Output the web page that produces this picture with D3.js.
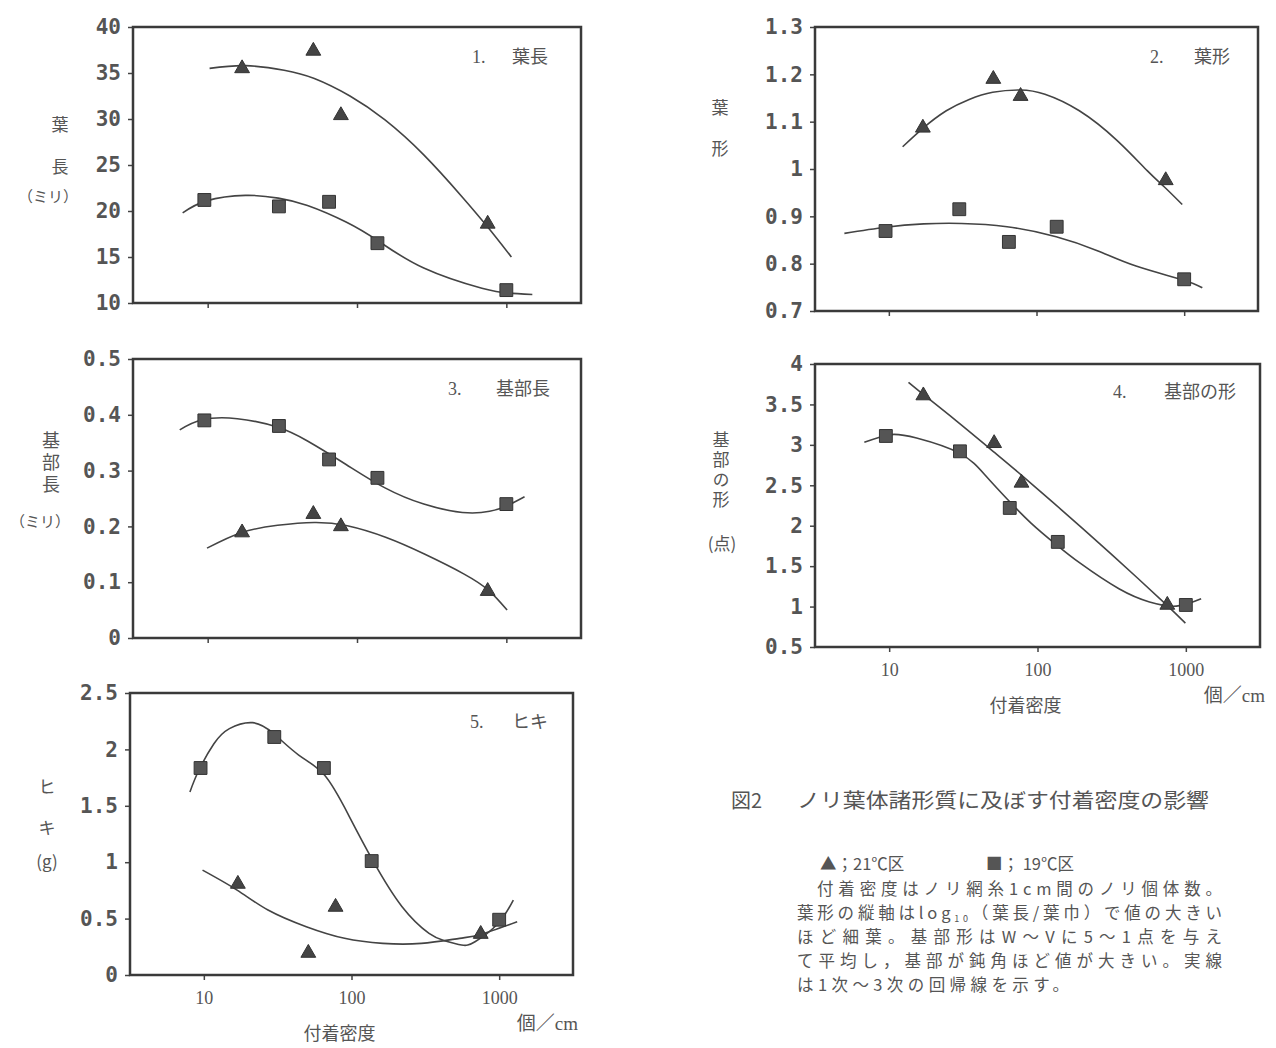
<!DOCTYPE html>
<html>
<head>
<meta charset="utf-8">
<script src="https://cdn.jsdelivr.net/npm/d3@7"></script>
<style>
body { margin: 0; background: #fff; }
svg text { fill: #555; }
</style>
</head>
<body>
<svg id="chart" width="1276" height="1048"></svg>
<script>
// 付着密度 (個/cm) of the plots
var densT = [17, 51, 78, 750];          // ▲ 21℃区
var densS = [9.5, 30, 65, 137, 1000];   // ■ 19℃区
var xTicks = [10, 100, 1000];
var xDomain = [3.162, 3162];

// 1. 葉長
var leafLenTicks = [10, 15, 20, 25, 30, 35, 40];
var leafLenT = [35.5, 37.4, 30.4, 18.6];
var leafLenS = [21.2, 20.5, 21.0, 16.5, 11.4];
var leafLenCurveT = [[10.3, 35.5], [17.9, 35.8], [32.5, 35.3], [51.8, 34.4], [89.7, 32.5], [154, 29.9], [280, 26.1], [508, 21.5], [755, 18.2], [1081, 15.0]];
var leafLenCurveS = [[6.8, 19.8], [9.8, 21.1], [17.9, 21.7], [29.7, 21.4], [46.6, 20.6], [84.5, 18.8], [140, 16.7], [280, 13.8], [686, 11.6], [1030, 11.07], [1493, 10.93]];

// 2. 葉形
var leafShapeTicks = [0.7, 0.8, 0.9, 1, 1.1, 1.2, 1.3];
var leafShapeT = [1.087, 1.19, 1.154, 0.976];
var leafShapeS = [0.869, 0.915, 0.846, 0.878, 0.767];
var leafShapeCurveT = [[12.4, 1.047], [17, 1.086], [24.5, 1.123], [35, 1.147], [50.5, 1.162], [77.8, 1.167], [114, 1.158], [195, 1.123], [352, 1.06], [564, 0.996], [735, 0.962], [970, 0.925]];
var leafShapeCurveS = [[5.0, 0.864], [9.5, 0.877], [17.2, 0.884], [31.1, 0.885], [63.2, 0.878], [136, 0.857], [261, 0.827], [472, 0.795], [970, 0.766], [1327, 0.749]];

// 3. 基部長
var baseLenTicks = [0, 0.1, 0.2, 0.3, 0.4, 0.5];
var baseLenT = [0.189, 0.222, 0.2, 0.084];
var baseLenS = [0.39, 0.38, 0.32, 0.287, 0.24];
var baseLenCurveT = [[9.9, 0.161], [16.9, 0.189], [29.4, 0.202], [51.8, 0.207], [86.1, 0.201], [157, 0.180], [285, 0.150], [518, 0.115], [764, 0.085], [1012, 0.05]];
var baseLenCurveS = [[6.5, 0.373], [9.2, 0.391], [15.8, 0.393], [29.2, 0.378], [46.6, 0.353], [84.5, 0.311], [154, 0.269], [280, 0.240], [508, 0.225], [773, 0.227], [1012, 0.237], [1324, 0.253]];

// 4. 基部の形
var baseShapeTicks = [0.5, 1, 1.5, 2, 2.5, 3, 3.5, 4];
var baseShapeT = [3.61, 3.02, 2.53, 1.02];
var baseShapeS = [3.11, 2.92, 2.22, 1.8, 1.02];
var baseShapeCurveT = [[13.5, 3.772], [17.2, 3.615], [28.5, 3.293], [51.5, 2.903], [80.4, 2.605], [145, 2.197], [262, 1.779], [474, 1.35], [753, 1.008], [993, 0.796]];
var baseShapeCurveS = [[6.8, 3.031], [10.1, 3.126], [15.3, 3.084], [29.9, 2.895], [44.6, 2.62], [62.4, 2.33], [90.8, 2.03], [133, 1.77], [196, 1.53], [354, 1.22], [569, 1.056], [863, 1.006], [1268, 1.097]];

// 5. ヒキ
var hikiTicks = [0, 0.5, 1, 1.5, 2, 2.5];
var hikiT = [0.807, 0.195, 0.603, 0.363];
var hikiS = [1.835, 2.11, 1.835, 1.01, 0.49];
var hikiCurveT = [[9.8, 0.93], [16.8, 0.753], [27.2, 0.576], [49.4, 0.428], [89.7, 0.325], [163, 0.28], [297, 0.28], [540, 0.325], [750, 0.36], [1324, 0.472]];
var hikiCurveS = [[8.05, 1.623], [9.25, 1.815], [11.7, 2.05], [14.9, 2.184], [21.4, 2.237], [29.7, 2.14], [43.9, 1.95], [65.8, 1.77], [95.3, 1.42], [139, 1.018], [220, 0.605], [335, 0.369], [426, 0.304], [556, 0.266], [686, 0.295], [982, 0.457], [1247, 0.664]];

var panels = [
    { x0: 133, x1: 581, y0: 27, y1: 303, yDomain: [10, 40], yTicks: leafLenTicks,
      t: leafLenT, s: leafLenS, ct: leafLenCurveT, cs: leafLenCurveS,
      num: '1.', name: '葉長', numX: 472, nameX: 548, titleY: 57, xLabels: false,
      yTitle: [['葉', 60, 125, 17, 0], ['長', 60, 167, 17, 0], ['（ミリ）', 48, 197, 15, 0]] },
    { x0: 815, x1: 1258, y0: 27, y1: 311, yDomain: [0.7, 1.3], yTicks: leafShapeTicks,
      t: leafShapeT, s: leafShapeS, ct: leafShapeCurveT, cs: leafShapeCurveS,
      num: '2.', name: '葉形', numX: 1150, nameX: 1230, titleY: 57, xLabels: false,
      yTitle: [['葉', 720, 108, 17, 0], ['形', 720, 149, 17, 0]] },
    { x0: 133, x1: 581, y0: 359, y1: 638, yDomain: [0, 0.5], yTicks: baseLenTicks,
      t: baseLenT, s: baseLenS, ct: baseLenCurveT, cs: baseLenCurveS,
      num: '3.', name: '基部長', numX: 448, nameX: 550, titleY: 389, xLabels: false,
      yTitle: [['基部長', 51, 464, 18, 4], ['（ミリ）', 40, 522, 15, 0]] },
    { x0: 815, x1: 1260, y0: 364, y1: 647, yDomain: [0.5, 4], yTicks: baseShapeTicks,
      t: baseShapeT, s: baseShapeS, ct: baseShapeCurveT, cs: baseShapeCurveS,
      num: '4.', name: '基部の形', numX: 1113, nameX: 1236, titleY: 392, xLabels: true,
      yTitle: [['基部の形', 721, 471, 17, 3], ['(点)', 722, 544, 17, 0]] },
    { x0: 130, x1: 573, y0: 693, y1: 975, yDomain: [0, 2.5], yTicks: hikiTicks,
      t: hikiT, s: hikiS, ct: hikiCurveT, cs: hikiCurveS,
      num: '5.', name: 'ヒキ', numX: 470, nameX: 548, titleY: 722, xLabels: true,
      yTitle: [['ヒ', 47, 787, 17, 0], ['キ', 47, 828, 17, 0], ['(g)', 47, 862, 17, 0]] }
];

var svg = d3.select('#chart');
svg.append('rect').attr('width', 1276).attr('height', 1048).attr('fill', '#fff');

var jaFont = '"Noto Sans CJK JP", sans-serif';
var serifFont = '"Liberation Serif", "Noto Sans CJK JP", serif';

function drawPanel(p) {
    var x = d3.scaleLog().domain(xDomain).range([p.x0, p.x1]);
    var y = d3.scaleLinear().domain(p.yDomain).range([p.y1, p.y0]);
    var g = svg.append('g');

    // Y axis
    var ya = g.append('g')
        .attr('transform', 'translate(' + p.x0 + ',0)')
        .call(d3.axisLeft(y).tickValues(p.yTicks).tickSize(5).tickPadding(7).tickFormat(d3.format('')));
    ya.select('.domain').remove();
    ya.selectAll('line').attr('stroke', '#444').attr('stroke-width', 1.5);
    ya.selectAll('text')
        .attr('font-family', '"DejaVu Sans Mono", monospace')
        .attr('font-weight', 'bold')
        .attr('font-size', 21)
        .attr('fill', '#555');

    // X axis
    var xa = g.append('g')
        .attr('transform', 'translate(0,' + p.y1 + ')')
        .call(d3.axisBottom(x).tickValues(xTicks).tickSize(5).tickPadding(11)
            .tickFormat(p.xLabels ? d3.format('d') : ''));
    xa.select('.domain').remove();
    xa.selectAll('line').attr('stroke', '#444').attr('stroke-width', 1.5);
    xa.selectAll('text')
        .attr('font-family', serifFont)
        .attr('font-size', 18)
        .attr('fill', '#555');

    // Frame
    g.append('rect')
        .attr('x', p.x0).attr('y', p.y0)
        .attr('width', p.x1 - p.x0).attr('height', p.y1 - p.y0)
        .attr('fill', 'none').attr('stroke', '#3a3a3a').attr('stroke-width', 2.5);

    // Regression curves
    var line = d3.line()
        .x(function(d) { return x(d[0]); })
        .y(function(d) { return y(d[1]); })
        .curve(d3.curveNatural);
    [p.ct, p.cs].forEach(function(c) {
        g.append('path').attr('d', line(c))
            .attr('fill', 'none').attr('stroke', '#444').attr('stroke-width', 1.6);
    });

    // Markers
    g.selectAll('.sq').data(p.s).join('path')
        .attr('class', 'sq')
        .attr('d', d3.symbol(d3.symbolSquare, 165))
        .attr('transform', function(d, i) { return 'translate(' + x(densS[i]) + ',' + y(d) + ')'; })
        .attr('fill', '#555').attr('stroke', '#333').attr('stroke-width', 1);
    g.selectAll('.tri').data(p.t).join('path')
        .attr('class', 'tri')
        .attr('d', d3.symbol(d3.symbolTriangle, 95))
        .attr('transform', function(d, i) { return 'translate(' + x(densT[i]) + ',' + y(d) + ')'; })
        .attr('fill', '#444').attr('stroke', '#333').attr('stroke-width', 1);

    // Panel title
    g.append('text').attr('x', p.numX).attr('y', p.titleY).attr('dy', '0.35em')
        .attr('font-family', serifFont).attr('font-size', 18).attr('fill', '#666')
        .text(p.num);
    g.append('text').attr('x', p.nameX).attr('y', p.titleY).attr('dy', '0.35em')
        .attr('text-anchor', 'end')
        .attr('font-family', jaFont).attr('font-size', 18).attr('fill', '#666')
        .text(p.name);

    // Y title: single characters, or a vertical column when spacing is given
    p.yTitle.forEach(function(t) {
        var el = g.append('text').attr('x', t[1]).attr('y', t[2])
            .attr('text-anchor', 'middle')
            .attr('font-family', jaFont).attr('font-size', t[3]).attr('fill', '#666')
            .text(t[0]);
        if (t[4]) {
            el.attr('writing-mode', 'vertical-rl').attr('letter-spacing', t[4]);
        } else {
            el.attr('dy', '0.35em');
        }
    });

    if (p.xLabels) {
        g.append('text').attr('x', (p.x0 + p.x1) / 2 - 12).attr('y', p.y1 + 59).attr('dy', '0.35em')
            .attr('text-anchor', 'middle')
            .attr('font-family', jaFont).attr('font-size', 18).attr('fill', '#666')
            .text('付着密度');
        g.append('text').attr('x', p.x1 + 5).attr('y', p.y1 + 48).attr('dy', '0.35em')
            .attr('text-anchor', 'end')
            .attr('font-family', serifFont).attr('font-size', 19).attr('fill', '#666')
            .text('個／cm');
    }
}

panels.forEach(drawPanel);

// Caption
var cap = svg.append('g').attr('font-family', jaFont);
cap.append('text').attr('x', 731).attr('y', 801).attr('dy', '0.35em')
    .attr('font-size', 20).attr('fill', '#555').text('図2');
cap.append('text').attr('x', 797).attr('y', 801).attr('dy', '0.35em')
    .attr('font-size', 20).attr('fill', '#555')
    .attr('textLength', 412).attr('lengthAdjust', 'spacingAndGlyphs')
    .text('ノリ葉体諸形質に及ぼす付着密度の影響');

// legend + notes in one text block, one tspan per row
var noteLines = [
    { x: 820, y: 864, w: 0, parts: ['▲；21℃区'] },
    { x: 986, y: 864, w: 0, parts: ['■； 19℃区'] },
    { x: 817, y: 889, w: 405, parts: ['付着密度はノリ網糸1cm間のノリ個体数。'] },
    { x: 797, y: 913, w: 425, parts: ['葉形の縦軸はlog', '10', '（葉長/葉巾）で値の大きい'] },
    { x: 797, y: 937, w: 425, parts: ['ほど細葉。基部形はW～Vに5～1点を与え'] },
    { x: 797, y: 961, w: 425, parts: ['て平均し，基部が鈍角ほど値が大きい。実線'] },
    { x: 797, y: 985, w: 272, parts: ['は1次～3次の回帰線を示す。'] }
];
var note = cap.append('text').attr('font-size', 16.5).attr('fill', '#444');
noteLines.forEach(function(l) {
    var row = note.append('tspan').attr('x', l.x).attr('y', l.y + 6);
    l.parts.forEach(function(s, i) {
        var ts = row.append('tspan').text(s);
        if (l.parts.length === 3 && i === 1) ts.attr('font-size', 9).attr('dy', 3);
        if (l.parts.length === 3 && i === 2) ts.attr('dy', -3);
    });
    if (l.w) {
        var natural = row.node().getComputedTextLength();
        var n = l.parts.join('').length;
        row.attr('letter-spacing', Math.max(0, (l.w - natural) / (n - 1)));
    }
});
</script>
</body>
</html>
